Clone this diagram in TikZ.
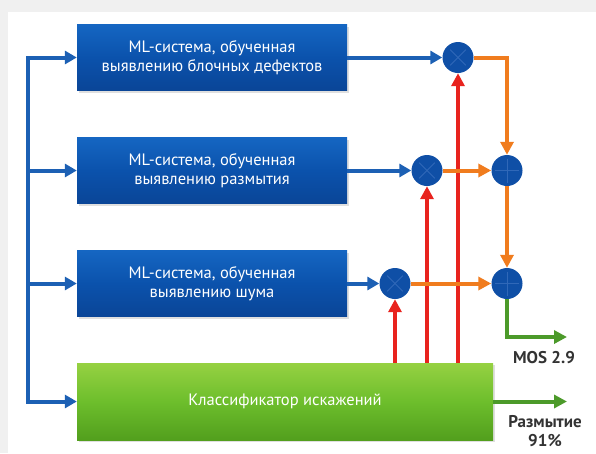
\documentclass[tikz,border=0pt]{standalone}
\usepackage{fontspec}
\setmainfont{PT Sans}
\usepackage{xcolor}
\usetikzlibrary{arrows.meta,positioning,calc,shadows}

\definecolor{boxtop}{HTML}{1566C2}
\definecolor{boxmid}{HTML}{0B52AC}
\definecolor{boxbot}{HTML}{0A4597}
\definecolor{clftop}{HTML}{96D142}
\definecolor{clfmid}{HTML}{6DBE2C}
\definecolor{clfbot}{HTML}{529F1D}
\definecolor{lineblue}{HTML}{1C60B4}
\definecolor{linered}{HTML}{E8231E}
\definecolor{lineorange}{HTML}{F07C1E}
\definecolor{linegreen}{HTML}{4C9A2A}
\definecolor{circfill}{HTML}{0F4FA6}
\definecolor{circsym}{HTML}{3068B8}
\definecolor{lbltext}{HTML}{333333}

\begin{document}
\begin{tikzpicture}[x=1pt,y=-1pt,
  mlbox/.style={minimum width=270pt, minimum height=66pt, inner sep=0pt,
    top color=boxtop, bottom color=boxbot, middle color=boxmid,
    text=white, align=center, font=\fontsize{16.5}{19}\selectfont,
    drop shadow={opacity=0.25, shadow xshift=2pt, shadow yshift=-2pt}},
  clfbox/.style={minimum width=416pt, minimum height=77pt, inner sep=0pt,
    top color=clftop, bottom color=clfbot, middle color=clfmid,
    text=white, align=center, font=\fontsize{16.5}{19}\selectfont,
    drop shadow={opacity=0.25, shadow xshift=2pt, shadow yshift=-2pt}},
  opnode/.style={circle, fill=circfill, minimum size=31pt, inner sep=0pt},
  mult/.style={opnode, path picture={
    \draw[circsym, line width=1pt] ([shift={(45:11pt)}]path picture bounding box.center) -- ([shift={(225:11pt)}]path picture bounding box.center);
    \draw[circsym, line width=1pt] ([shift={(135:11pt)}]path picture bounding box.center) -- ([shift={(315:11pt)}]path picture bounding box.center);}},
  sum/.style={opnode, path picture={
    \draw[circsym, line width=1pt] ([shift={(0:12pt)}]path picture bounding box.center) -- ([shift={(180:12pt)}]path picture bounding box.center);
    \draw[circsym, line width=1pt] ([shift={(90:12pt)}]path picture bounding box.center) -- ([shift={(270:12pt)}]path picture bounding box.center);}},
  bluearr/.style={draw=lineblue, line width=4pt, -{Triangle[length=12pt,width=13pt]}},
  redarr/.style={draw=linered, line width=4pt, -{Triangle[length=13pt,width=13pt]}},
  orarr/.style={draw=lineorange, line width=4pt, -{Triangle[length=13pt,width=13pt]}},
  grarr/.style={draw=linegreen, line width=4pt, -{Triangle[length=13pt,width=13pt]}},
  outlbl/.style={text=lbltext, align=center, font=\fontsize{17}{19}\selectfont\bfseries}]

\useasboundingbox (0,0) rectangle (596,453);
\fill[gray!12] (0,0) rectangle (596,453);
\fill[white] (8,12) rectangle (596,453);

\node[mlbox] (blk) at (212,57.5) {ML-система, обученная\\выявлению блочных дефектов};
\node[mlbox] (blur) at (212,170.5) {ML-система, обученная\\выявлению размытия};
\node[mlbox] (noise) at (212,283.5) {ML-система, обученная\\выявлению шума};
\node[clfbox] (clf) at (285,401.5) {Классификатор искажений};

\node[mult] (m1) at (458,57.5) {};
\node[mult] (m2) at (427,170.5) {};
\node[mult] (m3) at (395,283.5) {};
\node[sum] (s1) at (507,170.5) {};
\node[sum] (s2) at (507,283.5) {};

\coordinate (tA) at (28,57.5);
\coordinate (tD) at (28,401.5);
\draw[bluearr] (tD) -- (tA) -- (blk.west);
\draw[bluearr] (tA |- blur.west) -- (blur.west);
\draw[bluearr] (tA |- noise.west) -- (noise.west);
\draw[bluearr] (tA) |- (clf.west);

\draw[bluearr] (blk.east) -- (m1.west);
\draw[bluearr] (blur.east) -- (m2.west);
\draw[bluearr] (noise.east) -- (m3.west);

\draw[redarr] (clf.north -| m3) -- (m3.south);
\draw[redarr] (clf.north -| m2) -- (m2.south);
\draw[redarr] (clf.north -| m1) -- (m1.south);

\draw[orarr] (m1.east) -| (s1.north);
\draw[orarr] (m2.east) -- (s1.west);
\draw[orarr] (s1.south) -- (s2.north);
\draw[orarr] (m3.east) -- (s2.west);

\coordinate (mosend) at (567,337);
\coordinate (blurend) at (567,401.5);
\draw[grarr] (s2.south) |- (mosend);
\draw[grarr] (clf.east) -- (blurend);
\node[outlbl] (mos) at (544,358) {MOS 2.9};
\node[outlbl] (blurpct) at (545,431) {Размытие\\91\%};
\end{tikzpicture}
\end{document}
